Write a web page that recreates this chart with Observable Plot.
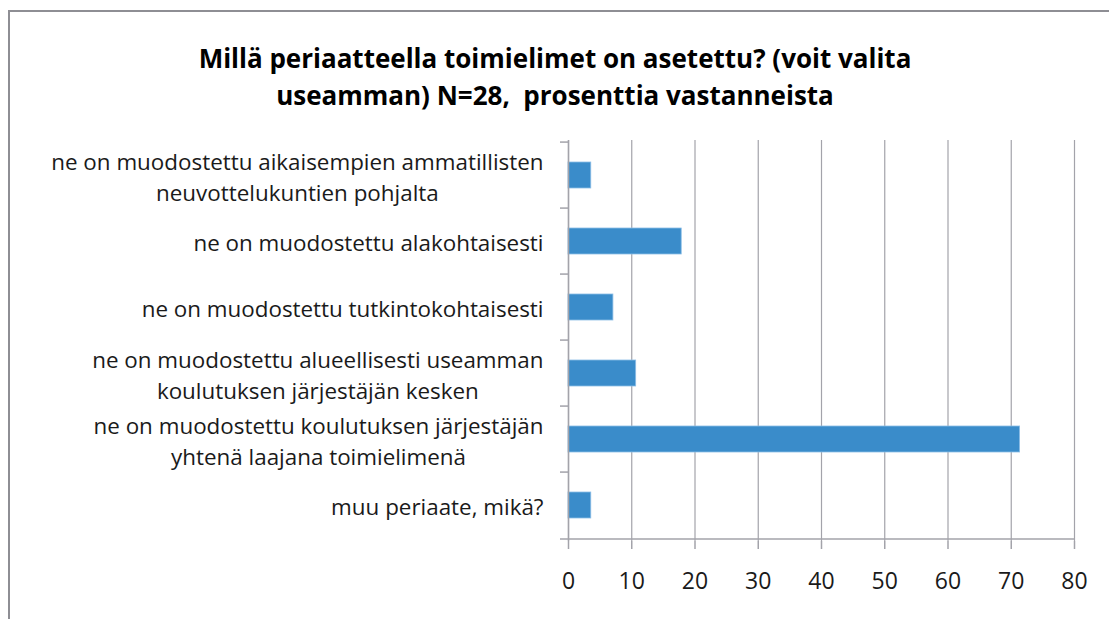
<!DOCTYPE html>
<html>
<head>
<meta charset="utf-8">
<script src="https://cdn.jsdelivr.net/npm/d3@7"></script>
<script src="https://cdn.jsdelivr.net/npm/@observablehq/plot@0.6"></script>
<style>
  html, body { margin: 0; padding: 0; background: #fff; overflow: hidden; }
  #frame {
    position: absolute; left: 8px; top: 10px; width: 1120px; height: 640px;
    border-left: 2px solid #8e8e94; border-top: 2px solid #8e8e94;
    box-sizing: border-box;
  }
  #title {
    width: 1090px; padding-top: 28px; height: 75px;
    text-align: center; font-family: "Open Sans", sans-serif; font-weight: bold;
    font-size: 26px; line-height: 37px; color: #000; white-space: nowrap;
  }
</style>
</head>
<body>
<div id="frame">
  <div id="title">Millä periaatteella toimielimet on asetettu? (voit valita<br>useamman) N=28,&nbsp; prosenttia vastanneista</div>
  <div id="chart"></div>
</div>
<script>
const categories = [
  "ne on muodostettu aikaisempien ammatillisten\nneuvottelukuntien pohjalta",
  "ne on muodostettu alakohtaisesti",
  "ne on muodostettu tutkintokohtaisesti",
  "ne on muodostettu alueellisesti useamman\nkoulutuksen järjestäjän kesken",
  "ne on muodostettu koulutuksen järjestäjän\nyhtenä laajana toimielimenä",
  "muu periaate, mikä?"
];
const values = [3.6, 17.9, 7.1, 10.7, 71.4, 3.6];
const xTicks = [0, 10, 20, 30, 40, 50, 60, 70, 80];

const data = categories.map((c, i) => ({category: c, value: values[i]}));

const width = 1099, height = 504;
const marginTop = 25, marginBottom = 78, marginLeft = 558, marginRight = 35;
const step = (height - marginTop - marginBottom) / categories.length;
const grey = "#a3a3aa";
const fontSize = 23;
const labelFontSize = 22.4;
const labelGap = 25;

// measure the widest line of each label so multi-line labels are centred as a right-aligned block
const ctx = document.createElement("canvas").getContext("2d");
ctx.font = `${labelFontSize}px 'Open Sans', sans-serif`;
const blockWidth = c => Math.max(...c.split("\n").map(s => ctx.measureText(s).width));

const labelMarks = categories.map(c =>
  Plot.text([c], {
    y: d => d, frameAnchor: "left", textAnchor: "middle",
    dx: -(labelGap + blockWidth(c) / 2), lineHeight: 1.37, fill: "#1a1a1a",
    fontSize: labelFontSize
  })
);

const chart = Plot.plot({
  width, height, marginTop, marginBottom, marginLeft, marginRight,
  style: {fontFamily: "'Open Sans', sans-serif", fontSize: `${fontSize}px`, color: "#1a1a1a", background: "white"},
  x: {domain: [0, 80], ticks: xTicks},
  y: {domain: categories, paddingInner: 0.6, paddingOuter: 0.3, axis: null},
  marks: [
    Plot.gridX(xTicks, {stroke: grey, strokeOpacity: 1, strokeWidth: 1.2}),
    Plot.barX(data, {x: "value", y: "category", fill: "#3a8cca", stroke: "#8cbde6", strokeWidth: 0.8}),
    Plot.ruleX([0], {stroke: grey, strokeWidth: 1.5}),
    Plot.ruleY(categories, {y: d => d, x1: 0, x2: 0, insetLeft: -8, dy: -step / 2, stroke: grey, strokeWidth: 1.5}),
    Plot.ruleY([categories[categories.length - 1]], {y: d => d, x1: 0, x2: 80, insetLeft: -8, dy: step / 2, stroke: grey, strokeWidth: 1.5}),
    Plot.axisX(xTicks, {tickSize: 8, tickPadding: 23, stroke: grey, strokeWidth: 1.5, label: null, tickFormat: d => String(d)}),
    ...labelMarks
  ]
});
document.getElementById("chart").appendChild(chart);
</script>
</body>
</html>
